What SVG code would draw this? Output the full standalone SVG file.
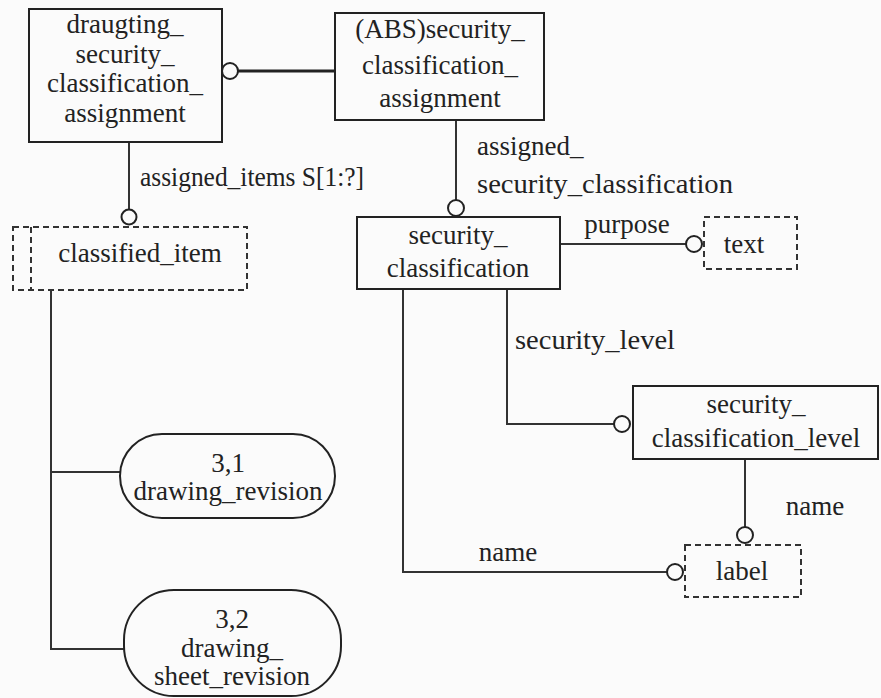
<svg xmlns="http://www.w3.org/2000/svg" width="881" height="698" viewBox="0 0 881 698">
<style>
.bg{fill:#fbfbfb}
.box{fill:none;stroke:#222;stroke-width:2}
.dbox{fill:none;stroke:#333;stroke-width:2;stroke-dasharray:6 4}
.ln{fill:none;stroke:#333;stroke-width:2}
.thick{fill:none;stroke:#222;stroke-width:3}
.cir{fill:#fbfbfb;stroke:#222;stroke-width:2}
text{font-family:"Liberation Serif","Times New Roman",serif;font-size:27px;fill:#222}
.c{text-anchor:middle}
</style>
<rect class="bg" x="0" y="0" width="881" height="698"/>
<g id="connectors">
<line class="thick" x1="238" y1="71" x2="335" y2="71"/>
<circle class="cir" cx="230" cy="71" r="8"/>
<line class="ln" x1="129" y1="142" x2="129" y2="209"/>
<circle class="cir" cx="129" cy="217" r="7.5"/>
<text x="140" y="186" textLength="224" lengthAdjust="spacingAndGlyphs">assigned_items S[1:?]</text>
<line class="ln" x1="456" y1="120" x2="456" y2="200"/>
<circle class="cir" cx="456" cy="208" r="8"/>
<text x="477" y="155">assigned_</text>
<text x="477" y="193" textLength="256" lengthAdjust="spacingAndGlyphs">security_classification</text>
<line class="ln" x1="560" y1="244" x2="686" y2="244"/>
<circle class="cir" cx="694" cy="244" r="8"/>
<text class="c" x="627" y="233">purpose</text>
<polyline class="ln" points="507,289 507,424 614,424"/>
<circle class="cir" cx="622" cy="424" r="8"/>
<text x="515" y="349" textLength="160" lengthAdjust="spacingAndGlyphs">security_level</text>
<line class="ln" x1="745" y1="459" x2="745" y2="527"/>
<circle class="cir" cx="745" cy="535" r="8"/>
<text class="c" x="815" y="515">name</text>
<polyline class="ln" points="403,289 403,572 667,572"/>
<circle class="cir" cx="675" cy="572" r="8"/>
<text class="c" x="508" y="561">name</text>
<polyline class="ln" points="51,290 51,649 125,649"/>
<line class="ln" x1="51" y1="472" x2="120" y2="472"/>
</g>
<g id="draugting_security_classification_assignment">
<rect class="box" x="29" y="9" width="193" height="133"/>
<text class="c" x="125" y="33">draugting_</text>
<text class="c" x="125" y="63">security_</text>
<text class="c" x="125" y="92">classification_</text>
<text class="c" x="125" y="122">assignment</text>
</g>
<g id="security_classification_assignment">
<rect class="box" x="335" y="13" width="209" height="107"/>
<text class="c" x="440" y="38">(ABS)security_</text>
<text class="c" x="440" y="74">classification_</text>
<text class="c" x="440" y="107">assignment</text>
</g>
<g id="classified_item">
<rect class="dbox" x="13" y="227" width="234" height="63"/>
<line class="dbox" x1="31" y1="227" x2="31" y2="290"/>
<text class="c" x="140" y="262">classified_item</text>
</g>
<g id="security_classification">
<rect class="box" x="357" y="217" width="203" height="72"/>
<text class="c" x="458" y="244">security_</text>
<text class="c" x="458" y="277">classification</text>
</g>
<g id="text">
<rect class="dbox" x="704" y="217" width="93" height="52"/>
<text class="c" x="744" y="253">text</text>
</g>
<g id="security_classification_level">
<rect class="box" x="633" y="386" width="245" height="73"/>
<text class="c" x="756" y="413">security_</text>
<text class="c" x="756" y="447">classification_level</text>
</g>
<g id="label">
<rect class="dbox" x="685" y="545" width="116" height="52"/>
<text class="c" x="742" y="580">label</text>
</g>
<g id="drawing_revision">
<rect class="box" x="120" y="434" width="215" height="84" rx="42" ry="42"/>
<text class="c" x="228" y="472">3,1</text>
<text class="c" x="228" y="500">drawing_revision</text>
</g>
<g id="drawing_sheet_revision">
<rect class="box" x="124" y="590" width="217" height="106" rx="50" ry="50"/>
<text class="c" x="232" y="628">3,2</text>
<text class="c" x="232" y="657">drawing_</text>
<text class="c" x="232" y="685">sheet_revision</text>
</g>
</svg>
